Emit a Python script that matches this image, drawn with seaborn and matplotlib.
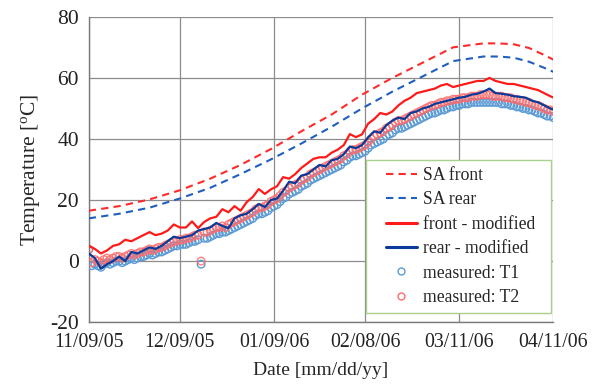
import numpy as np
import pandas as pd
import matplotlib
matplotlib.use("Agg")
import matplotlib.pyplot as plt
import seaborn as sns
from matplotlib.lines import Line2D
from matplotlib.legend_handler import HandlerLine2D

# ---------------- data ----------------
start_date = pd.Timestamp("2005-11-09")
tick_dates = ["2005-11-09", "2005-12-09", "2006-01-09", "2006-02-08", "2006-03-11", "2006-04-11"]
tick_labels = ["11/09/05", "12/09/05", "01/09/06", "02/08/06", "03/11/06", "04/11/06"]

sa_days = [0, 10, 20, 30, 40, 50, 60, 70, 80, 90, 100, 110, 120, 130, 135, 140, 145, 150, 153]
sa_front = [16.5, 18.0, 20.2, 23.2, 27.0, 31.5, 36.7, 42.5, 48.0, 54.5, 60.0, 65.0, 70.0, 71.3, 71.3, 71.0, 69.8, 67.5, 66.0]
sa_rear = [14.0, 15.5, 17.5, 20.5, 24.0, 28.5, 33.3, 38.5, 44.0, 50.0, 55.5, 60.5, 65.5, 67.0, 67.0, 66.6, 65.3, 63.3, 62.0]

# modified model, every 2 days (day 0 .. 152) plus last day 153
mod_days = list(range(0, 153, 2)) + [153]
front_mod = [5.0, 4.0, 2.5, 3.5, 5.0, 5.5, 7.0, 6.5, 7.5, 8.5, 9.5, 8.5, 9.0, 10.0, 12.0, 11.0,
             11.0, 13.0, 10.8, 12.8, 14.0, 14.5, 17.0, 16.0, 18.0, 16.5, 19.3, 21.0, 23.6, 22.0,
             23.5, 24.5, 27.5, 27.0, 28.5, 30.5, 32.0, 33.5, 34.0, 34.0, 35.5, 36.5, 38.0, 41.6,
             40.6, 41.5, 45.0, 46.5, 48.5, 48.0, 49.0, 51.0, 52.5, 53.5, 55.0, 55.5, 56.0, 56.5,
             57.5, 58.0, 57.0, 57.5, 58.0, 58.5, 59.0, 59.0, 60.0, 59.0, 58.5, 58.0, 58.0, 57.5,
             57.0, 56.5, 56.0, 55.0, 54.0, 53.6]
rear_mod = [2.5, 1.0, -2.5, -1.0, 0.0, 1.5, 0.0, 3.0, 2.5, 3.5, 4.5, 4.0, 5.0, 6.5, 8.0, 7.5,
            8.0, 8.5, 10.0, 10.5, 11.0, 12.5, 11.5, 10.8, 14.0, 15.0, 15.5, 17.0, 18.7, 17.7,
            20.0, 20.5, 23.0, 26.0, 25.5, 28.0, 28.5, 30.0, 31.5, 31.0, 33.0, 33.5, 35.0, 37.5,
            37.0, 38.0, 40.5, 42.5, 42.0, 44.5, 46.0, 47.0, 46.5, 48.5, 49.0, 50.0, 50.5, 51.5,
            52.0, 52.5, 53.0, 53.5, 53.8, 54.5, 54.8, 55.5, 56.5, 55.0, 54.8, 54.5, 54.0, 53.8,
            53.5, 52.5, 52.0, 51.0, 50.0, 49.6]

# measured, daily (day 0 .. 153)
meas_days = list(range(0, 154))
t2 = [3.8, -0.5, 0.5, 0.0, -0.5, 0.5, 1.0, 0.5, 1.0, 1.5, 1.5, 1.0, 1.5, 2.0, 2.5, 2.0, 2.5, 3.0, 3.0, 3.5,
      4.0, 3.5, 4.0, 4.5, 4.5, 5.0, 5.5, 6.0, 6.5, 6.5, 7.0, 7.0, 7.5, 7.5, 8.0, 8.5, 8.5, 0.0, 9.5, 9.5,
      10.0, 10.5, 11.0, 11.0, 11.5, 11.0, 12.0, 12.5, 13.0, 13.5, 14.0, 14.5, 15.0, 15.5, 16.0, 17.0, 17.5, 17.5, 18.0, 18.5,
      19.5, 20.0, 20.5, 21.5, 22.5, 23.0, 24.0, 24.5, 25.0, 25.5, 26.5, 27.0, 27.5, 28.5, 29.0, 29.5, 30.0, 30.5, 31.0, 31.5,
      32.0, 32.5, 33.0, 33.5, 34.5, 35.0, 36.0, 36.5, 36.5, 37.0, 37.5, 38.0, 39.0, 40.0, 41.0, 41.5, 42.0, 42.5, 43.5, 44.0,
      44.5, 45.5, 46.0, 46.0, 46.5, 47.0, 47.5, 48.0, 48.5, 49.0, 49.5, 50.0, 50.5, 51.0, 51.0, 51.5, 52.0, 52.0, 52.5, 52.5,
      53.0, 53.0, 53.0, 53.5, 53.5, 53.5, 54.0, 54.0, 54.0, 54.5, 54.5, 54.5, 54.5, 54.0, 54.0, 54.0, 54.0, 53.5, 53.5, 53.5,
      53.0, 53.0, 52.5, 52.5, 52.0, 52.0, 51.5, 51.0, 51.0, 50.5, 50.0, 49.5, 49.5, 49.0]
t1 = [3.8, -1.5, -1.0, -1.5, -2.0, -1.0, -0.5, -1.0, -0.5, 0.0, 0.0, -0.5, 0.0, 0.5, 1.0, 0.5, 1.0, 1.5, 1.5, 2.0,
      2.5, 2.0, 2.5, 3.0, 3.0, 3.5, 4.0, 4.5, 5.0, 5.0, 5.5, 5.5, 5.5, 6.0, 6.5, 6.5, 7.0, -1.0, 7.5, 7.5,
      8.0, 8.5, 9.0, 9.0, 9.5, 9.5, 10.0, 10.5, 11.0, 11.5, 12.0, 12.5, 13.0, 13.5, 14.0, 15.0, 15.5, 15.5, 16.0, 16.5,
      17.5, 18.0, 18.5, 19.5, 20.5, 21.0, 22.0, 22.5, 23.0, 23.5, 24.5, 25.0, 25.5, 26.5, 27.0, 27.5, 28.0, 28.5, 29.0, 29.5,
      30.0, 30.5, 31.0, 31.5, 32.5, 33.0, 34.0, 34.5, 34.5, 35.0, 35.5, 36.0, 37.0, 38.0, 38.5, 39.0, 39.5, 40.0, 41.0, 41.5,
      42.0, 43.0, 43.5, 43.5, 44.0, 44.5, 45.0, 45.5, 46.0, 46.5, 47.0, 47.5, 48.0, 48.5, 48.5, 49.0, 49.5, 49.5, 50.0, 50.5,
      50.5, 51.0, 51.0, 51.5, 51.5, 51.5, 52.0, 52.0, 52.0, 52.0, 52.0, 52.0, 52.0, 52.0, 52.0, 52.0, 51.5, 51.5, 51.5, 51.0,
      51.0, 50.5, 50.5, 50.0, 50.0, 49.5, 49.5, 49.0, 48.5, 48.5, 48.0, 47.5, 47.5, 47.0]

# ---------------- figure ----------------
sns.set_theme(style="whitegrid")
plt.rcParams["font.family"] = ["Liberation Serif", "DejaVu Serif"]
plt.rcParams["mathtext.fontset"] = "stix"
plt.rcParams["axes.unicode_minus"] = False

fig = plt.figure(figsize=(6.04, 3.91), dpi=100)
ax = fig.add_axes([0.147, 0.176, 0.769, 0.781])

def to_date(days):
    return [start_date + pd.Timedelta(days=d) for d in days]

sa_df = pd.DataFrame({"date": to_date(sa_days), "front": sa_front, "rear": sa_rear})
mod_df = pd.DataFrame({"date": to_date(mod_days), "front": front_mod, "rear": rear_mod})
meas_df = pd.DataFrame({"date": to_date(meas_days), "T1": t1, "T2": t2})

c_sa_front = "#FF2A2A"
c_sa_rear = "#1F5FBF"
c_front = "#FF1A1A"
c_rear = "#0A3A9A"
c_t1 = "#5B9BD5"
c_t2 = "#FF6B6B"

sns.scatterplot(data=meas_df, x="date", y="T1", ax=ax, marker="o", s=30,
                facecolor="none", edgecolor=c_t1, linewidth=1.0, zorder=3)
sns.scatterplot(data=meas_df, x="date", y="T2", ax=ax, marker="o", s=30,
                facecolor="none", edgecolor=c_t2, linewidth=1.0, zorder=3, alpha=0.85)
sns.lineplot(data=mod_df, x="date", y="rear", ax=ax, color=c_rear, linewidth=1.6, zorder=4)
sns.lineplot(data=mod_df, x="date", y="front", ax=ax, color=c_front, linewidth=1.6, zorder=4)
sns.lineplot(data=sa_df, x="date", y="front", ax=ax, color=c_sa_front, linewidth=1.5,
             linestyle=(0, (3.5, 2.5)), zorder=4)
sns.lineplot(data=sa_df, x="date", y="rear", ax=ax, color=c_sa_rear, linewidth=1.5,
             linestyle=(0, (3.5, 2.5)), zorder=4)

ax.set_xlim(pd.Timestamp(tick_dates[0]), pd.Timestamp(tick_dates[-1]))
ax.set_ylim(-20, 80)
ax.set_xticks([pd.Timestamp(d) for d in tick_dates])
ax.set_xticklabels(tick_labels)
ax.set_yticks([-20, 0, 20, 40, 60, 80])
ax.set_xlabel("Date [mm/dd/yy]", fontsize=14, labelpad=7)
ax.set_ylabel("Temperature [$\\mathregular{^{o}}$C]", fontsize=15.5, labelpad=6)
ax.tick_params(axis="both", colors="#222222", length=4, width=0.8)
ax.tick_params(axis="x", direction="in", pad=8, labelsize=14.3)
ax.tick_params(axis="y", direction="out", pad=3, labelsize=15.5)

ax.grid(True, color="#8C8C8C", linewidth=0.9)
ax.set_facecolor("white")
for side in ["top", "right"]:
    ax.spines[side].set_visible(False)
for side in ["left", "bottom"]:
    ax.spines[side].set_color("#7A7A7A")
    ax.spines[side].set_linewidth(1.0)

handles = [
    Line2D([], [], color=c_sa_front, lw=1.5, linestyle=(0, (3.5, 2.5))),
    Line2D([], [], color=c_sa_rear, lw=1.5, linestyle=(0, (3.5, 2.5))),
    Line2D([], [], color=c_front, lw=2.2),
    Line2D([], [], color=c_rear, lw=2.2),
    Line2D([], [], color=c_t1, marker="o", lw=0, markerfacecolor="none", markersize=5, markeredgewidth=1),
    Line2D([], [], color=c_t2, marker="o", lw=0, markerfacecolor="none", markersize=5, markeredgewidth=1),
]
labels = ["SA front", "SA rear", "front - modified\u00a0\u00a0", "rear - modified", "measured: T1", "measured: T2"]
hmap = {h: HandlerLine2D(xpad=0.75) for h in handles}
leg = ax.legend(handles, labels, loc="lower right", bbox_to_anchor=(0.995, 0.03),
                fontsize=12.7, frameon=True, fancybox=False, framealpha=1,
                edgecolor="#A9D18E", handlelength=2.5, handletextpad=0.35,
                labelspacing=0.42, borderpad=0.4, borderaxespad=0.0, handler_map=hmap)
leg.get_frame().set_linewidth(1.0)

fig.savefig("out.png", dpi=100, facecolor="white")
